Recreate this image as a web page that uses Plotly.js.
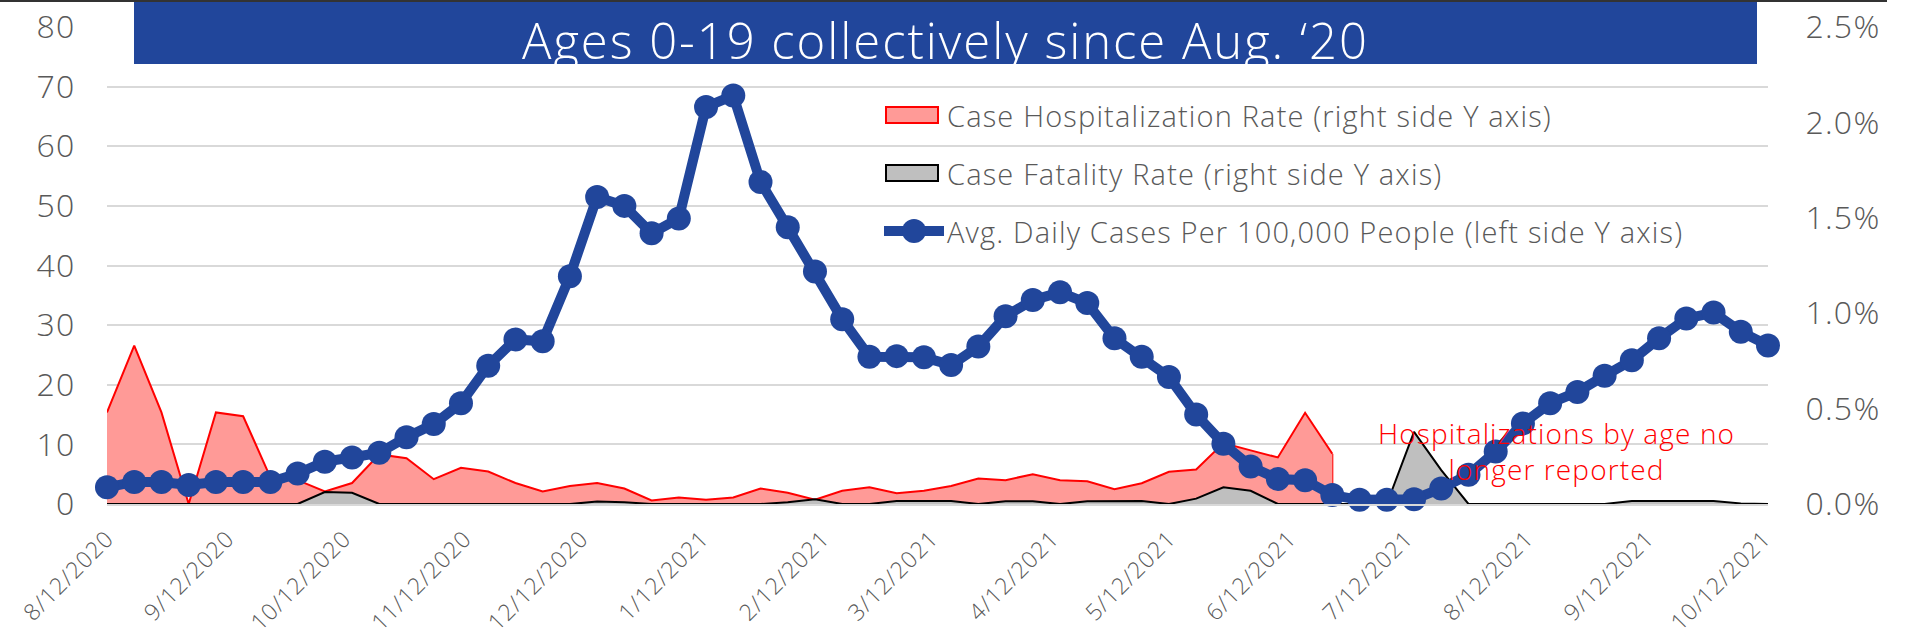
<!DOCTYPE html>
<html>
<head>
<meta charset="utf-8">
<script src="https://cdn.plot.ly/plotly-3.0.1.min.js"></script>
<style>
html,body{margin:0;padding:0;background:#fff;}
#chart{width:1906px;height:638px;}
svg text{letter-spacing:0.04em;}
</style>
</head>
<body>
<div id="chart"></div>
<script>
// Weekly report dates
const dates = [
  '2020-08-12','2020-08-19','2020-08-26','2020-09-02','2020-09-09','2020-09-16','2020-09-23','2020-09-30',
  '2020-10-07','2020-10-14','2020-10-21','2020-10-28','2020-11-04','2020-11-11','2020-11-18','2020-11-25',
  '2020-12-02','2020-12-09','2020-12-16','2020-12-23','2020-12-30','2021-01-06','2021-01-13','2021-01-20',
  '2021-01-27','2021-02-03','2021-02-10','2021-02-17','2021-02-24','2021-03-03','2021-03-10','2021-03-17',
  '2021-03-24','2021-03-31','2021-04-07','2021-04-14','2021-04-21','2021-04-28','2021-05-05','2021-05-12',
  '2021-05-19','2021-05-26','2021-06-02','2021-06-09','2021-06-16','2021-06-23','2021-06-30','2021-07-07',
  '2021-07-14','2021-07-21','2021-07-28','2021-08-04','2021-08-11','2021-08-18','2021-08-25','2021-09-01',
  '2021-09-08','2021-09-15','2021-09-22','2021-09-29','2021-10-06','2021-10-13'
];

// Avg. daily cases per 100,000 people (left axis)
const avgDailyCases = [
  2.8,3.7,3.7,3.2,3.7,3.7,3.7,5.1,7.1,7.8,8.6,11.2,13.4,16.9,23.2,27.6,27.3,
  38.2,51.5,50.0,45.4,47.9,66.6,68.5,54.0,46.4,39.0,31.0,
  24.7,24.8,24.6,23.3,26.4,31.5,34.2,35.5,33.7,27.8,24.7,21.3,15.0,
  10.1,6.3,4.2,4.0,1.5,0.7,0.7,0.8,2.6,4.9,8.8,
  13.5,16.9,18.8,21.5,24.1,27.8,31.1,32.1,28.9,26.6
];

// Case hospitalization rate, % (right axis) - reported through 6/23/2021 only
const hospRate = [
  0.48,0.83,0.48,0.00,0.48,0.46,0.14,0.125,0.066,0.11,
  0.26,0.24,0.13,0.19,0.17,0.11,0.066,0.094,0.11,0.081,
  0.019,0.034,0.022,0.034,0.081,0.059,0.022,0.069,0.088,0.056,
  0.069,0.094,0.134,0.125,0.156,0.125,0.119,0.078,0.109,0.169,
  0.181,0.319,0.281,0.244,0.478,0.263
];

// Case fatality rate, % (right axis)
const fatalRate = [
  0,0,0,0,0,0,0,0,0.063,0.059,0,0,0,0,0,0,0,0,0.0125,0.009,0,0,0,0,0,0.009,0.025,0,0,
  0.016,0.016,0.016,0,0.014,0.014,0,0.014,0.016,0.016,0,0.028,0.0875,0.069,0,0,0,0,0,
  0.378,0.178,0,0,0,0,0,0,0.016,0.016,0.016,0.016,0.003,0
];

const tickVals = ['2020-08-12','2020-09-12','2020-10-12','2020-11-12','2020-12-12','2021-01-12','2021-02-12',
  '2021-03-12','2021-04-12','2021-05-12','2021-06-12','2021-07-12','2021-08-12','2021-09-12','2021-10-12'];
const tickLabels = ['8/12/2020','9/12/2020','10/12/2020','11/12/2020','12/12/2020','1/12/2021','2/12/2021',
  '3/12/2021','4/12/2021','5/12/2021','6/12/2021','7/12/2021','8/12/2021','9/12/2021','10/12/2021'];

const legendNames = [
  'Case Hospitalization Rate (right side Y axis)',
  'Case Fatality Rate (right side Y axis)',
  'Avg. Daily Cases Per 100,000 People (left side Y axis)'
];
const titleText = 'Ages 0-19 collectively since Aug. \u201820';
const noteText = 'Hospitalizations by age no<br>longer reported';

const FONT = '"Open Sans", Lato, "Noto Sans", sans-serif';
const GREY = '#595959';
const BLUE = '#21469b';

const hospDates = dates.slice(0, hospRate.length);

const traces = [
  {
    name: legendNames[0], x: hospDates, y: hospRate, yaxis: 'y',
    type: 'scatter', mode: 'lines', fill: 'tozeroy',
    fillcolor: '#ff9a97', line: {color: '#ff0000', width: 2}, showlegend: false, hoverinfo: 'x+y'
  },
  {
    name: legendNames[1], x: dates, y: fatalRate, yaxis: 'y',
    type: 'scatter', mode: 'lines', fill: 'tozeroy',
    fillcolor: '#bfbfbf', line: {color: '#000000', width: 2}, showlegend: false, hoverinfo: 'x+y'
  },
  {
    name: legendNames[2], x: dates, y: avgDailyCases, yaxis: 'y2',
    type: 'scatter', mode: 'lines+markers', cliponaxis: false,
    line: {color: BLUE, width: 10}, marker: {color: BLUE, size: 24}, showlegend: false
  }
];

// pixel -> paper helpers for decoration placement
const L = 107, R = 1768, T = 27, B = 504;
const px = v => (v - L) / (R - L);
const py = v => (B - v) / (B - T);

const shapes = [
  {type: 'rect', xref: 'paper', yref: 'paper', x0: px(0), x1: px(1887), y0: py(2), y1: py(0),
   fillcolor: '#333333', line: {width: 0}},
  {type: 'rect', xref: 'paper', yref: 'paper', x0: px(134), x1: px(1757), y0: py(64), y1: py(2),
   fillcolor: BLUE, line: {width: 0}},
  {type: 'line', xref: 'x', yref: 'y', x0: hospDates[0], x1: hospDates[0], y0: 0, y1: hospRate[0],
   line: {color: '#ff0000', width: 2}, layer: 'below'},
  {type: 'line', xref: 'x', yref: 'y', x0: hospDates[hospDates.length - 1], x1: hospDates[hospDates.length - 1],
   y0: 0, y1: hospRate[hospRate.length - 1], line: {color: '#ff0000', width: 2}, layer: 'below'},
  {type: 'rect', xref: 'paper', yref: 'paper', x0: px(886), x1: px(938), y0: py(123), y1: py(107),
   fillcolor: '#ff9a97', line: {color: '#ff0000', width: 2}},
  {type: 'rect', xref: 'paper', yref: 'paper', x0: px(886), x1: px(938), y0: py(181), y1: py(165),
   fillcolor: '#bfbfbf', line: {color: '#000000', width: 2}},
  {type: 'line', xref: 'paper', yref: 'paper', x0: px(884), x1: px(944), y0: py(231), y1: py(231),
   line: {color: BLUE, width: 10}},
  {type: 'circle', xref: 'paper', yref: 'paper', xsizemode: 'pixel', ysizemode: 'pixel',
   xanchor: px(914), yanchor: py(231), x0: -12, x1: 12, y0: -12, y1: 12,
   fillcolor: BLUE, line: {width: 0}}
];

const annotations = [
  {xref: 'paper', yref: 'paper', x: px(945), y: py(40), xanchor: 'center', yanchor: 'middle',
   text: titleText, showarrow: false, font: {family: FONT, size: 49, weight: 300, color: '#ffffff'}},
  {xref: 'paper', yref: 'paper', x: px(945), y: py(115), xanchor: 'left', yanchor: 'middle',
   text: legendNames[0], showarrow: false, font: {family: FONT, size: 29, weight: 300, color: GREY}},
  {xref: 'paper', yref: 'paper', x: px(945), y: py(173), xanchor: 'left', yanchor: 'middle',
   text: legendNames[1], showarrow: false, font: {family: FONT, size: 29, weight: 300, color: GREY}},
  {xref: 'paper', yref: 'paper', x: px(945), y: py(231), xanchor: 'left', yanchor: 'middle',
   text: legendNames[2], showarrow: false, font: {family: FONT, size: 29, weight: 300, color: GREY}},
  {xref: 'paper', yref: 'paper', x: px(1556), y: py(451), xanchor: 'center', yanchor: 'middle',
   text: noteText, showarrow: false, font: {family: FONT, size: 28, weight: 300, color: '#ff0000'}}
];

const layout = {
  width: 1906, height: 638,
  margin: {l: L, r: 1906 - R, t: T, b: 638 - B},
  paper_bgcolor: '#ffffff', plot_bgcolor: '#ffffff',
  showlegend: false,
  font: {family: FONT, color: GREY},
  xaxis: {
    type: 'date', range: [dates[0], dates[dates.length - 1]],
    tickmode: 'array', tickvals: tickVals, ticktext: tickLabels, tickangle: -45,
    ticks: 'outside', ticklen: 10, tickcolor: 'rgba(0,0,0,0)',
    tickfont: {family: FONT, size: 23, weight: 300, color: GREY},
    showgrid: false, zeroline: false, showline: true, linecolor: '#d9d9d9', linewidth: 2
  },
  yaxis: {
    side: 'right', range: [0, 2.5], dtick: 0.5, tickformat: '.1f', ticksuffix: '%',
    ticks: 'outside', ticklen: 30, tickcolor: 'rgba(0,0,0,0)',
    tickfont: {family: FONT, size: 32, weight: 300, color: GREY},
    showgrid: false, zeroline: false, showline: false
  },
  yaxis2: {
    overlaying: 'y', side: 'left', range: [0, 80], dtick: 10,
    ticks: 'outside', ticklen: 24, tickcolor: 'rgba(0,0,0,0)',
    tickfont: {family: FONT, size: 32, weight: 300, color: GREY},
    showgrid: true, gridcolor: '#d9d9d9', gridwidth: 2, zeroline: false, showline: false
  },
  shapes: shapes,
  annotations: annotations
};

Plotly.newPlot('chart', traces, layout, {staticPlot: true, displayModeBar: false});
</script>
</body>
</html>
